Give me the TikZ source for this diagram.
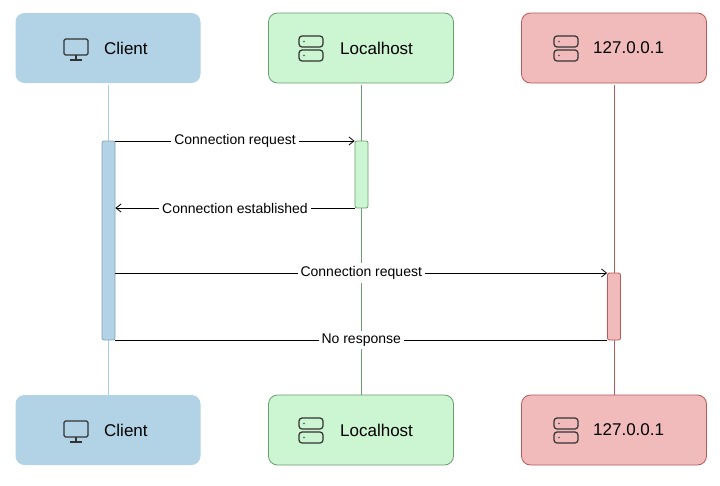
\documentclass[tikz,border=0pt]{standalone}
\usepackage{fontspec}
\setmainfont{Liberation Sans}
\usetikzlibrary{arrows.meta}
\definecolor{cfill}{HTML}{B1D3E5}
\definecolor{cline}{HTML}{A9CDE0}
\definecolor{gfill}{HTML}{CCF5D2}
\definecolor{gline}{HTML}{6A9E70}
\definecolor{rfill}{HTML}{F1BBBB}
\definecolor{rline}{HTML}{B85A58}
\begin{document}
\begin{tikzpicture}[x=1pt,y=-1pt,
  box/.style={rounded corners=9pt,minimum width=185pt,minimum height=70pt,line width=0.8pt},
  ttl/.style={anchor=west,font=\fontsize{17}{19}\selectfont,inner sep=0pt},
  act/.style={rounded corners=2pt,line width=0.8pt,minimum width=13pt,inner sep=0pt},
  msg/.style={line width=0.8pt,-{Straight Barb[length=5pt,width=8pt]}},
  lbl/.style={fill=white,font=\fontsize{14}{16}\selectfont,inner sep=3pt},
  icon/.style={line width=1.2pt,draw=black!80}]
\useasboundingbox (0,0) rectangle (720,485);
\fill[white] (0,0) rectangle (720,485);
% lifelines
\draw[cline,line width=0.8pt] (108,85) -- (108,397);
\draw[gline,line width=0.8pt] (361,85) -- (361,397);
\draw[rline,line width=0.8pt] (614,85) -- (614,397);
% boxes
\foreach \y/\s in {48/t,430/b}{
  \node[box,fill=cfill,draw=none] (c\s) at (108,\y) {};
  \node[box,fill=gfill,draw=gline] (l\s) at (361,\y) {};
  \node[box,fill=rfill,draw=rline] (r\s) at (614,\y) {};
  \node[ttl] (ct\s) at (104,\y) {Client};
  \node[ttl] (lt\s) at (340,\y) {Localhost};
  \node[ttl] (rt\s) at (593,\y) {127.0.0.1};
  % monitor icon
  \draw[icon,rounded corners=1.5pt] (64,\y-9) rectangle (88,\y+7);
  \draw[icon] (76,\y+7) -- (76,\y+12) (70,\y+12) -- (82,\y+12);
  % server icons
  \foreach \cx in {311,566}{
    \draw[icon,rounded corners=3pt] (\cx-12,\y-12) rectangle (\cx+12,\y-1);
    \draw[icon,rounded corners=3pt] (\cx-12,\y+2) rectangle (\cx+12,\y+13);
    \fill[black!70] (\cx-7,\y-6.5) circle (0.9pt) (\cx-7,\y+7.5) circle (0.9pt);
  }
}
% activations
\node[act,fill=cfill,draw=cline!80!black,minimum height=199pt] (ca) at (108.5,240.5) {};
\node[act,fill=gfill,draw=gline,minimum height=67pt] (la) at (361.5,174.5) {};
\node[act,fill=rfill,draw=rline,minimum height=67pt] (ra) at (614,306.5) {};
% messages
\draw[msg] (ca.east |- 0,141) -- node[lbl]{Connection request} (la.west |- 0,141);
\draw[msg] (la.west |- 0,208) -- node[lbl]{Connection established} (ca.east |- 0,208);
\draw[msg] (ca.east |- 0,273) -- node[lbl]{Connection request} (ra.west |- 0,273);
\draw[line width=0.8pt] (ra.west |- 0,340) -- node[lbl]{No response} (ca.east |- 0,340);
\end{tikzpicture}
\end{document}
